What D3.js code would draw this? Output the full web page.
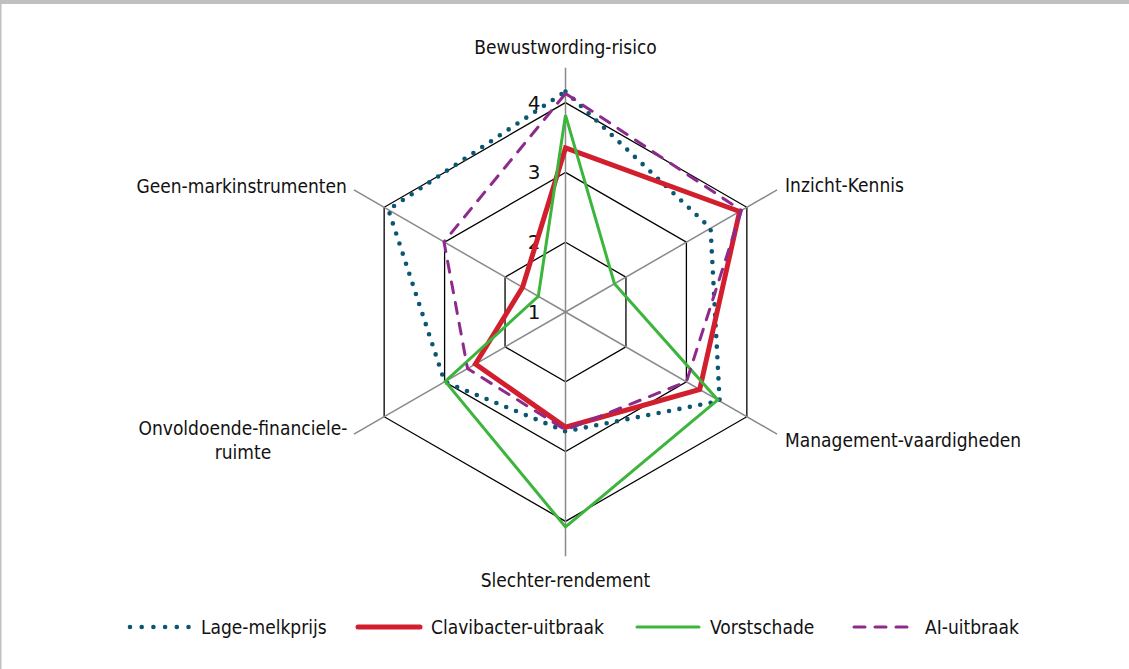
<!DOCTYPE html>
<html>
<head>
<meta charset="utf-8">
<script src="https://cdn.jsdelivr.net/npm/d3@7/dist/d3.min.js"></script>
<style>
  html, body { margin: 0; padding: 0; background: #fff; }
  svg { display: block; }
  .lbl { font-family: "Liberation Sans Narrow", "Arial Narrow", "DejaVu Sans Condensed", sans-serif; font-size: 19px; fill: #111; }
  .tick { font-family: "DejaVu Sans", sans-serif; font-size: 20px; fill: #111; }
</style>
</head>
<body>
<script>
// axes, clockwise from the top
const axes = ['Bewustwording-risico', 'Inzicht-Kennis', 'Management-vaardigheden',
  'Slechter-rendement', 'Onvoldoende-financiele-ruimte', 'Geen-markinstrumenten'];

// values (scale 1..4.5, rings at 1..4)
const lageMelkprijs = [4.16, 3.40, 3.55, 2.71, 3.00, 3.93];
const clavibacter   = [3.35, 3.88, 3.22, 2.65, 2.49, 1.71];
const vorstschade   = [3.82, 1.81, 3.52, 4.08, 2.99, 1.45];
const aiUitbraak    = [4.13, 3.91, 3.00, 2.69, 2.62, 3.01];

const ringTicks = [1, 2, 3, 4];

const series = [
  { name: 'Lage-melkprijs', values: lageMelkprijs, color: '#0b5673', width: 4.6, dash: '0 10.6', cap: 'round' },
  { name: 'Clavibacter-uitbraak', values: clavibacter, color: '#d21f2e', width: 5, dash: null, cap: 'butt' },
  { name: 'Vorstschade', values: vorstschade, color: '#3bb53b', width: 3, dash: null, cap: 'butt' },
  { name: 'AI-uitbraak', values: aiUitbraak, color: '#8d2b8d', width: 3, dash: '11 10', cap: 'round' },
];

const W = 1129, H = 669;
const cx = 565.5, cy = 312;

const svg = d3.select('body').append('svg').attr('width', W).attr('height', H);

// frame: grey band on top, thin line on the left
svg.append('rect').attr('x', 0).attr('y', 0).attr('width', W).attr('height', 4).attr('fill', '#c0c0c0');
svg.append('rect').attr('x', 0).attr('y', 0).attr('width', 1.5).attr('height', H).attr('fill', '#c0c0c0');

const r = d3.scaleLinear().domain([1, 4.5]).range([0, 244.3]);
const ang = d3.scalePoint().domain(axes).range([0, 2 * Math.PI * 5 / 6]);

const g = svg.append('g').attr('transform', `translate(${cx},${cy})`);

const pt = (a, v) => [Math.sin(ang(a)) * r(v), -Math.cos(ang(a)) * r(v)];

// rings
g.selectAll('path.ring').data(ringTicks.filter(t => t > 1)).enter().append('path')
  .attr('class', 'ring')
  .attr('d', t => d3.line()(axes.map(a => pt(a, t))) + 'Z')
  .attr('fill', 'none').attr('stroke', '#000').attr('stroke-width', 1.3);

// spokes
g.selectAll('line.spoke').data(axes).enter().append('line')
  .attr('class', 'spoke')
  .attr('x1', 0).attr('y1', 0)
  .attr('x2', a => pt(a, 4.5)[0]).attr('y2', a => pt(a, 4.5)[1])
  .attr('stroke', '#8a8a8a').attr('stroke-width', 1.5);

// ring tick labels along the top spoke
g.selectAll('text.tick').data(ringTicks).enter().append('text')
  .attr('class', 'tick')
  .attr('x', -25).attr('y', t => -r(t))
  .attr('text-anchor', 'end').attr('dominant-baseline', 'central')
  .text(t => t);

// series
const radial = d3.lineRadial()
  .angle((d, i) => ang(axes[i]))
  .radius(d => r(d))
  .curve(d3.curveLinearClosed);

series.forEach(s => {
  g.append('path')
    .attr('d', radial(s.values))
    .attr('fill', 'none')
    .attr('stroke', s.color)
    .attr('stroke-width', s.width)
    .attr('stroke-linecap', s.cap)
    .attr('stroke-linejoin', 'miter')
    .attr('stroke-dasharray', s.dash);
});

// axis labels
const ends = axes.map(a => pt(a, 4.5));
const lbl = (x, y, anchor, txt) => g.append('text').attr('class', 'lbl')
  .attr('x', x).attr('y', y).attr('text-anchor', anchor).attr('dominant-baseline', 'central').text(txt);

lbl(0, ends[0][1] - 21, 'middle', axes[0]);
lbl(ends[1][0] + 8, ends[1][1] - 5, 'start', axes[1]);
lbl(ends[2][0] + 8, ends[2][1] + 6, 'start', axes[2]);
lbl(0, ends[3][1] + 24, 'middle', axes[3]);
lbl(ends[4][0] - 111, ends[4][1] - 6, 'middle', 'Onvoldoende-financiele-');
lbl(ends[4][0] - 111, ends[4][1] + 18, 'middle', 'ruimte');
lbl(ends[5][0] - 7, ends[5][1] - 4, 'end', axes[5]);

// legend
const legX = [128, 358, 637, 852];
const legend = svg.append('g').attr('transform', 'translate(0,627)');
series.forEach((s, i) => {
  const it = legend.append('g').attr('transform', `translate(${legX[i]},0)`);
  it.append('line')
    .attr('x1', s.dash ? 2 : 0).attr('x2', 62).attr('y1', 0).attr('y2', 0)
    .attr('stroke', s.color)
    .attr('stroke-width', s.width)
    .attr('stroke-linecap', 'round')
    .attr('stroke-dasharray', s.dash === '0 10.6' ? '0 11.7' : s.dash);
  it.append('text').attr('class', 'lbl')
    .attr('x', 73).attr('y', 0).attr('dominant-baseline', 'central')
    .text(s.name);
});
</script>
</body>
</html>
